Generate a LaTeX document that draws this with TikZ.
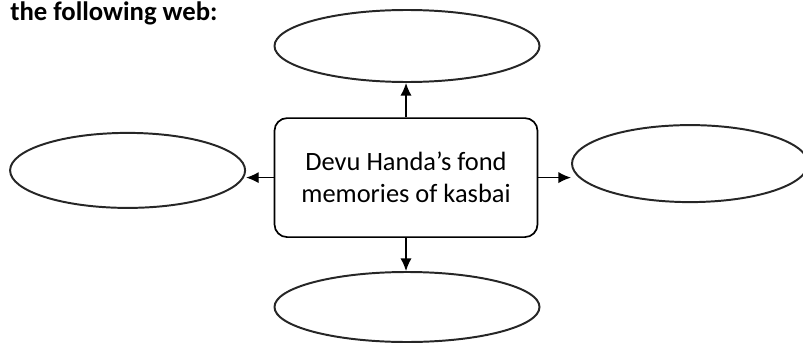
\documentclass[tikz,border=0pt]{standalone}
\usepackage{fontspec}
\setmainfont{Carlito}
\usetikzlibrary{shapes.geometric, arrows.meta, positioning, calc}

\tikzset{
  blank/.style={draw=black!85, ellipse, line width=1.4pt},
  link/.style={-{Latex[length=9pt, width=8pt]}, line width=1pt}
}

\begin{document}
\begin{tikzpicture}
  \useasboundingbox (0,0) rectangle (20.075,-8.575);

  % Heading
  \node[anchor=base west, inner sep=0pt, font=\bfseries\fontsize{19}{22}\selectfont] (head) at (0.25,-0.52) {the following web:};

  % Centre box
  \node[draw, rounded corners=9pt, line width=1.2pt, minimum width=6.575cm, minimum height=2.975cm, align=center, font=\fontsize{18.8}{23}\selectfont] (memo) at (10.15,-4.44) {
    Devu Handa’s fond\\memories of kasbai
  };

  % Empty ellipses
  \node[blank, minimum width=6.625cm, minimum height=1.8cm] (top) at (10.175,-1.15) {};
  \node[blank, minimum width=6.625cm, minimum height=1.75cm] (bottom) at (10.175,-7.675) {};
  \node[blank, minimum width=5.875cm, minimum height=1.875cm] (left) at (3.19,-4.26) {};
  \node[blank, minimum width=5.9cm, minimum height=1.925cm] (right) at (17.25,-4.09) {};

  % Arrows
  \draw[link] (memo.north) -- (memo.north |- top.south);
  \draw[link] (memo.south) -- (memo.south |- bottom.north);
  \draw[link] (memo.west) -- (memo.west -| left.east);
  \draw[link] (memo.east) -- (memo.east -| right.west);
\end{tikzpicture}
\end{document}
